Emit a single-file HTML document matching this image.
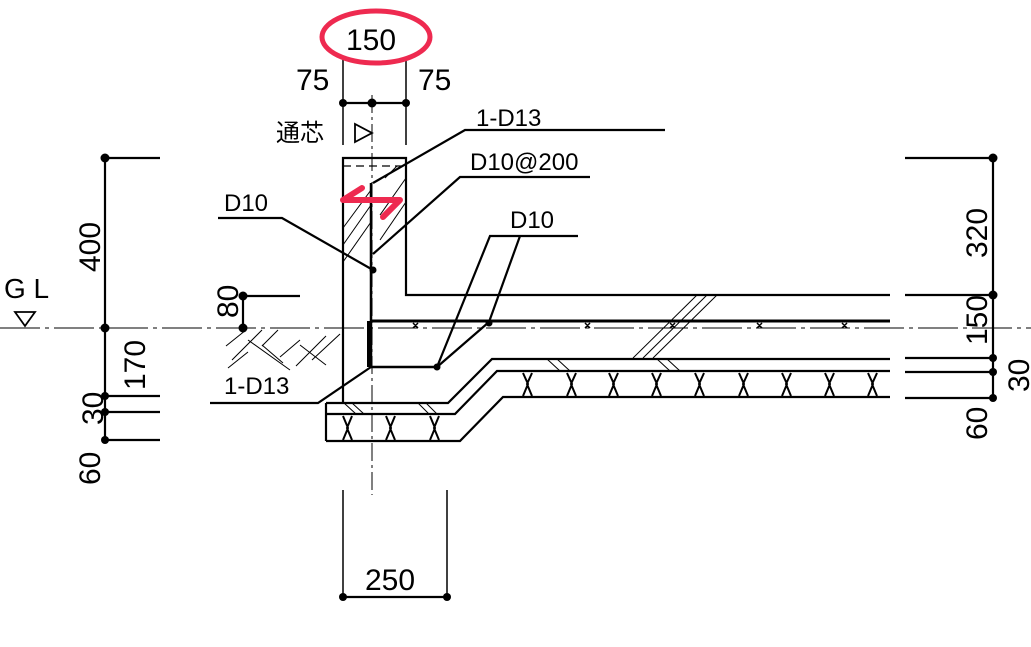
<!DOCTYPE html>
<html><head><meta charset="utf-8"><style>
html,body{margin:0;padding:0;background:#fff;}
svg{display:block;}
text{font-family:"Liberation Sans","Noto Sans CJK JP",sans-serif;fill:#000;}
</style></head><body>
<svg width="1031" height="647" viewBox="0 0 1031 647" xmlns="http://www.w3.org/2000/svg">
<g stroke="#000" fill="none" stroke-width="2.2">
<!-- center lines -->
<line x1="372" y1="95" x2="372" y2="495" stroke-width="1" stroke-dasharray="18,4,3,4"/>
<line x1="0" y1="328" x2="1031" y2="328" stroke-width="1" stroke-dasharray="40,5,4,5"/>
<!-- wall -->
<polyline points="343,403 343,158 406,158 406,295 890,295"/>
<line x1="343" y1="166" x2="406" y2="166" stroke-width="1.2" stroke-dasharray="8,5"/>
<!-- slab rebar -->
<line x1="371" y1="321" x2="890" y2="321" stroke-width="3"/>
<line x1="371" y1="183" x2="371" y2="367" stroke-width="2.5"/>
<line x1="369" y1="321" x2="369" y2="367" stroke-width="4"/>
<line x1="371" y1="367" x2="437" y2="367" stroke-width="2.5"/>
<!-- slab bottom / base layers -->
<polyline points="326,403 448,403 492,359 890,359"/>
<polyline points="326,414 455,414 497,371 890,371"/>
<polyline points="326,441 460,441 503,397 890,397"/>
<line x1="326" y1="403" x2="326" y2="441"/>
<!-- wall hatch -->
<g stroke-width="1">
<line x1="380" y1="215" x2="406" y2="178"/>
<line x1="380" y1="240" x2="406" y2="202"/>
<line x1="343" y1="262" x2="371" y2="222"/>
<line x1="343" y1="245" x2="371" y2="205"/>
<line x1="343" y1="228" x2="371" y2="190"/>
<line x1="385" y1="178" x2="397" y2="166"/>
<!-- slab cut hatch -->
<line x1="633" y1="358" x2="697" y2="295"/>
<line x1="643" y1="358" x2="707" y2="295"/>
<line x1="653" y1="358" x2="717" y2="295"/>
<!-- ground hatch -->
<path d="M226,346 L246,330 M232,360 L262,330 M262,346 L278,330 M248,340 L290,370 M228,368 L248,352 M280,357 L300,340 M296,366 L326,336 M312,360 L340,334 M300,345 L326,365 M262,345 L283,363"/>
<!-- base top hatch pairs -->
<path d="M344,403 L356,414 M352,403 L364,414 M418,403 L429,414 M426,403 L437,414 M547,359 L560,371 M557,359 L570,371 M657,359 L670,371 M667,359 L680,371"/>
</g>
<!-- base X shapes -->
<g stroke-width="2">
<path d="M343,416 L348,428 L343,440 M352,416 L347,428 L352,440"/>
<path d="M386,416 L391,428 L386,440 M395,416 L390,428 L395,440"/>
<path d="M430,416 L435,428 L430,440 M439,416 L434,428 L439,440"/>
<g id="x1"><path d="M523,373 L528,384 L523,396 M532,373 L527,384 L532,396"/></g>
<use href="#x1" x="44"/><use href="#x1" x="86"/><use href="#x1" x="129"/><use href="#x1" x="172"/><use href="#x1" x="216"/><use href="#x1" x="259"/><use href="#x1" x="302"/><use href="#x1" x="345"/>
</g>
<!-- rebar x marks -->
<g stroke-width="1.5">
<path d="M585,323 l5,5 m0,-5 l-5,5 M670,323 l5,5 m0,-5 l-5,5 M757,323 l5,5 m0,-5 l-5,5 M842,323 l5,5 m0,-5 l-5,5 M413,323 l5,5 m0,-5 l-5,5"/>
</g>
<!-- leaders -->
<polyline points="665,130 465,130 373,183"/>
<line x1="565" y1="130" x2="600" y2="130" stroke-width="1"/>
<polyline points="590,177 460,177 373,254"/>
<polyline points="578,236 490,236 437,367"/>
<polyline points="520,236 489,322"/>
<polyline points="489,322 437,367"/>
<polyline points="218,218 282,218 373,270"/>
<polyline points="210,403 318,403 371,367"/>
<!-- left dims -->
<line x1="105" y1="158" x2="105" y2="440"/>
<line x1="105" y1="158" x2="160" y2="158"/>
<line x1="105" y1="396" x2="160" y2="396"/>
<line x1="105" y1="412" x2="160" y2="412"/>
<line x1="105" y1="440" x2="160" y2="440"/>
<line x1="243" y1="296" x2="243" y2="328"/>
<line x1="243" y1="296" x2="300" y2="296"/>
<!-- right dims -->
<line x1="993" y1="158" x2="993" y2="398"/>
<line x1="905" y1="158" x2="993" y2="158"/>
<line x1="905" y1="295" x2="993" y2="295"/>
<line x1="905" y1="358" x2="993" y2="358"/>
<line x1="905" y1="372" x2="993" y2="372"/>
<line x1="905" y1="398" x2="993" y2="398"/>
<!-- top dims -->
<line x1="340" y1="103" x2="408" y2="103"/>
<line x1="343" y1="58" x2="343" y2="145" stroke-width="1.5"/>
<line x1="406" y1="58" x2="406" y2="145" stroke-width="1.5"/>
<!-- bottom dims -->
<line x1="343" y1="490" x2="343" y2="600" stroke-width="1.5"/>
<line x1="447" y1="490" x2="447" y2="600" stroke-width="1.5"/>
<line x1="340" y1="597" x2="450" y2="597"/>
<!-- GL triangle -->
<polygon points="15,312 35,312 25,326" stroke-width="1.8"/>
<polygon points="355,124 355,142 372,133" stroke-width="1.8"/>
</g>
<g fill="#000">
<circle cx="105" cy="158" r="4.5"/><circle cx="105" cy="328" r="4.5"/><circle cx="105" cy="396" r="4"/><circle cx="105" cy="412" r="4"/><circle cx="105" cy="440" r="4"/>
<circle cx="243" cy="296" r="4.5"/><circle cx="243" cy="328" r="4.5"/>
<circle cx="993" cy="158" r="4.5"/><circle cx="993" cy="295" r="4.5"/><circle cx="993" cy="358" r="4"/><circle cx="993" cy="372" r="4"/><circle cx="993" cy="398" r="4"/>
<circle cx="343" cy="103" r="4"/><circle cx="372" cy="103" r="4.5"/><circle cx="406" cy="103" r="4"/>
<circle cx="343" cy="597" r="4"/><circle cx="447" cy="597" r="4"/>
<circle cx="373" cy="270" r="3.5"/><circle cx="437" cy="367" r="3.5"/><circle cx="489" cy="323" r="3.5"/>
</g>
<!-- red marks -->
<ellipse cx="376" cy="37" rx="54" ry="26" fill="none" stroke="#ee2a50" stroke-width="5"/>
<path d="M343,200 L400,200 L383,217 M343,200 L362,188" fill="none" stroke="#ee2a50" stroke-width="6" stroke-linecap="round" stroke-linejoin="round"/>
<!-- texts -->
<g font-size="30">
<text x="346" y="50">150</text>
<text x="296" y="90">75</text>
<text x="418" y="90">75</text>
<text x="365" y="590">250</text>
<text x="4" y="298" font-size="28">G L</text>
</g>
<g font-size="24">
<text x="276" y="141">通芯</text>
<text x="476" y="126">1-D13</text>
<text x="470" y="170">D10@200</text>
<text x="510" y="228">D10</text>
<text x="224" y="211">D10</text>
<text x="224" y="394">1-D13</text>
</g>
<g font-size="30">
<text transform="translate(100,272) rotate(-90)">400</text>
<text transform="translate(145,390) rotate(-90)">170</text>
<text transform="translate(103,425) rotate(-90)">30</text>
<text transform="translate(100,485) rotate(-90)">60</text>
<text transform="translate(238,318) rotate(-90)">80</text>
<text transform="translate(987,258) rotate(-90)">320</text>
<text transform="translate(987,345) rotate(-90)">150</text>
<text transform="translate(1029,392) rotate(-90)">30</text>
<text transform="translate(987,440) rotate(-90)">60</text>
</g>
</svg>
</body></html>
